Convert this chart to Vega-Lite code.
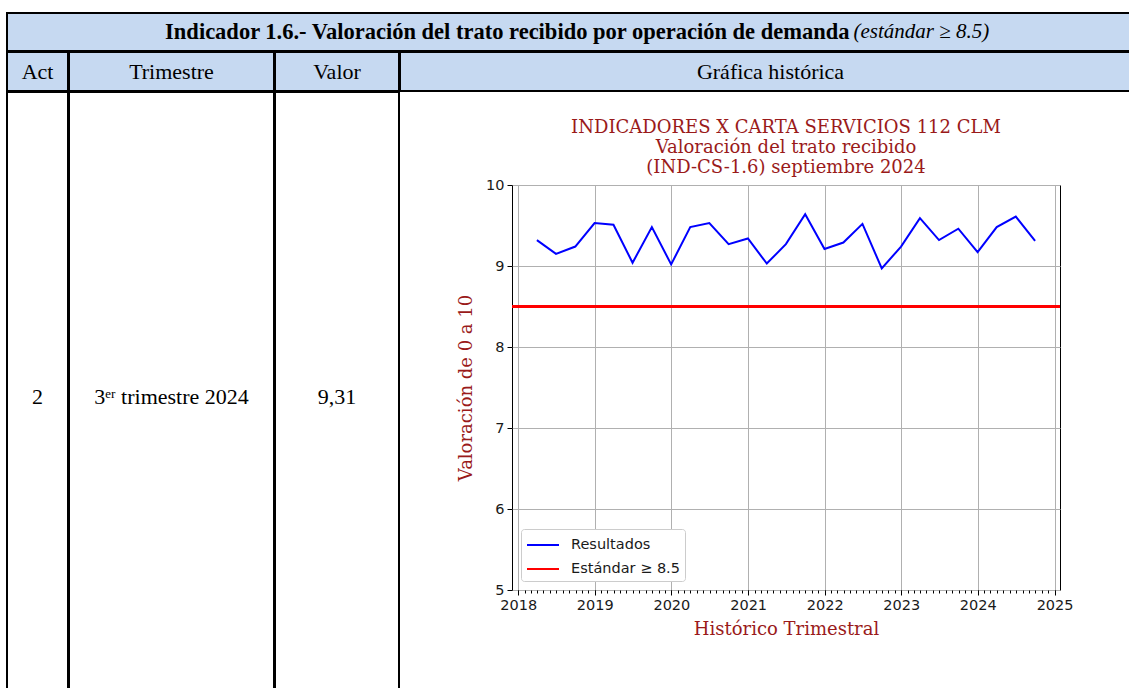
{
  "$schema": "https://vega.github.io/schema/vega-lite/v6.json",
  "background": "white",
  "padding": {"left": 6, "top": 12, "right": 0, "bottom": 0},
  "config": {"text": {"font": "Liberation Serif", "fontSize": 22, "color": "black"}},
  "spacing": -2,
  "resolve": {"scale": {"color": "independent"}, "legend": {"color": "independent"}},
  "vconcat": [
    {
      "width": 1133, "height": 38,
      "view": {"fill": "#c6d9f1", "stroke": "black", "strokeWidth": 2},
      "data": {"values": [{"a": "Indicador 1.6.- Valoración del trato recibido por operación de demanda", "b": "(estándar ≥ 8.5)"}]},
      "layer": [
        {"mark": {"type": "text", "align": "right", "dx": 276, "fontSize": 22.5, "fontWeight": "bold"}, "encoding": {"text": {"field": "a"}}},
        {"mark": {"type": "text", "align": "left", "dx": 280, "fontSize": 21, "fontStyle": "italic"}, "encoding": {"text": {"field": "b"}}}
      ]
    },
    {
      "spacing": -2,
      "hconcat": [
        {"width": 61, "height": 39, "view": {"fill": "#c6d9f1", "stroke": "black", "strokeWidth": 2}, "data": {"values": [{"t": "Act"}]}, "mark": "text", "encoding": {"text": {"field": "t"}}},
        {"width": 205, "height": 39, "view": {"fill": "#c6d9f1", "stroke": "black", "strokeWidth": 2}, "data": {"values": [{"t": "Trimestre"}]}, "mark": "text", "encoding": {"text": {"field": "t"}}},
        {"width": 124, "height": 39, "view": {"fill": "#c6d9f1", "stroke": "black", "strokeWidth": 2}, "data": {"values": [{"t": "Valor"}]}, "mark": "text", "encoding": {"text": {"field": "t"}}},
        {"width": 741, "height": 39, "view": {"fill": "#c6d9f1", "stroke": "black", "strokeWidth": 2}, "data": {"values": [{"t": "Gráfica histórica"}]}, "mark": "text", "encoding": {"text": {"field": "t"}}}
      ]
    },
    {
      "spacing": 57,
      "resolve": {"scale": {"color": "independent"}, "legend": {"color": "independent"}},
      "hconcat": [
        {
          "spacing": -2,
          "hconcat": [
            {"width": 61, "height": 610, "view": {"fill": "white", "stroke": "black", "strokeWidth": 2}, "data": {"values": [{"t": "2"}]}, "mark": "text", "encoding": {"text": {"field": "t"}}},
            {"width": 205, "height": 610, "view": {"fill": "white", "stroke": "black", "strokeWidth": 2}, "data": {"values": [{"t": "3ᵉʳ trimestre 2024"}]}, "mark": "text", "encoding": {"text": {"field": "t"}}},
            {"width": 124, "height": 610, "view": {"fill": "white", "stroke": "black", "strokeWidth": 2}, "data": {"values": [{"t": "9,31"}]}, "mark": "text", "encoding": {"text": {"field": "t"}}}
          ]
        },
        {
          "spacing": 0,
          "resolve": {"scale": {"color": "independent"}, "legend": {"color": "independent"}},
          "vconcat": [
            {"width": 1, "height": 26, "view": {"stroke": null}, "data": {"values": []}, "mark": {"type": "point", "opacity": 0}},
            {
              "width": 548, "height": 405,
              "view": {"stroke": "black", "strokeWidth": 1},
              "title": {
                "text": ["INDICADORES X CARTA SERVICIOS 112 CLM", "Valoración del trato recibido", "(IND-CS-1.6) septiembre 2024"],
                "font": "DejaVu Serif", "fontSize": 18, "fontWeight": "normal", "color": "#9a1a1a",
                "lineHeight": 20, "offset": 0, "anchor": "middle"
              },
              "data": {"values": [
                {"fecha": "2018-03-31T00:00:00", "valor": 9.32},
                {"fecha": "2018-06-30T00:00:00", "valor": 9.15},
                {"fecha": "2018-09-30T00:00:00", "valor": 9.24},
                {"fecha": "2018-12-31T00:00:00", "valor": 9.53},
                {"fecha": "2019-03-31T00:00:00", "valor": 9.51},
                {"fecha": "2019-06-30T00:00:00", "valor": 9.04},
                {"fecha": "2019-09-30T00:00:00", "valor": 9.48},
                {"fecha": "2019-12-31T00:00:00", "valor": 9.02},
                {"fecha": "2020-03-31T00:00:00", "valor": 9.48},
                {"fecha": "2020-06-30T00:00:00", "valor": 9.53},
                {"fecha": "2020-09-30T00:00:00", "valor": 9.27},
                {"fecha": "2020-12-31T00:00:00", "valor": 9.34},
                {"fecha": "2021-03-31T00:00:00", "valor": 9.03},
                {"fecha": "2021-06-30T00:00:00", "valor": 9.27},
                {"fecha": "2021-09-30T00:00:00", "valor": 9.64},
                {"fecha": "2021-12-31T00:00:00", "valor": 9.21},
                {"fecha": "2022-03-31T00:00:00", "valor": 9.29},
                {"fecha": "2022-06-30T00:00:00", "valor": 9.52},
                {"fecha": "2022-09-30T00:00:00", "valor": 8.97},
                {"fecha": "2022-12-31T00:00:00", "valor": 9.24},
                {"fecha": "2023-03-31T00:00:00", "valor": 9.59},
                {"fecha": "2023-06-30T00:00:00", "valor": 9.32},
                {"fecha": "2023-09-30T00:00:00", "valor": 9.46},
                {"fecha": "2023-12-31T00:00:00", "valor": 9.17},
                {"fecha": "2024-03-31T00:00:00", "valor": 9.48},
                {"fecha": "2024-06-30T00:00:00", "valor": 9.61},
                {"fecha": "2024-09-30T00:00:00", "valor": 9.31}
              ]},
              "layer": [
                {
                  "mark": {"type": "line", "strokeWidth": 2},
                  "encoding": {
                    "x": {"field": "fecha", "type": "temporal",
                      "scale": {"domain": [{"year": 2017, "month": 12, "date": 2, "hours": 6}, {"year": 2025, "month": 1, "date": 26, "hours": 18}]},
                      "axis": {"orient": "bottom", "values": [{"year": 2018}, {"year": 2019}, {"year": 2020}, {"year": 2021}, {"year": 2022}, {"year": 2023}, {"year": 2024}, {"year": 2025}],
                        "format": "%Y", "grid": true, "gridColor": "#b0b0b0", "gridWidth": 1, "domain": false,
                        "tickSize": 5, "tickColor": "black", "labelFont": "DejaVu Sans", "labelFontSize": 14.5, "labelColor": "#1a1a1a", "labelPadding": 3,
                        "title": "Histórico Trimestral", "titleFont": "DejaVu Serif", "titleFontSize": 18, "titleFontWeight": "normal", "titleColor": "#9a1a1a", "titlePadding": 9}},
                    "y": {"field": "valor", "type": "quantitative",
                      "scale": {"domain": [5, 10], "nice": false, "zero": false},
                      "axis": {"values": [5, 6, 7, 8, 9, 10], "format": "d", "grid": true, "gridColor": "#b0b0b0", "gridWidth": 1, "domain": false,
                        "tickSize": 5, "tickColor": "black", "labelFont": "DejaVu Sans", "labelFontSize": 14.5, "labelColor": "#1a1a1a", "labelPadding": 3,
                        "title": "Valoración de 0 a 10", "titleFont": "DejaVu Serif", "titleFontSize": 18, "titleFontWeight": "normal", "titleColor": "#9a1a1a", "titlePadding": 10}},
                    "color": {"datum": "Resultados",
                      "scale": {"domain": ["Resultados", "Estándar ≥ 8.5"], "range": ["blue", "red"]},
                      "legend": {"title": null, "orient": "bottom-left", "offset": 9, "fillColor": "white", "strokeColor": "#cccccc", "cornerRadius": 3, "padding": 5,
                        "symbolType": "M-1,0H2.2", "symbolSize": 400, "symbolStrokeWidth": 2, "labelFont": "DejaVu Sans", "labelFontSize": 14.5, "labelColor": "#1a1a1a", "labelOffset": 23, "rowPadding": 6}}
                  }
                },
                {
                  "mark": {"type": "rule", "strokeWidth": 2},
                  "encoding": {"y": {"datum": 8.5}, "color": {"datum": "Estándar ≥ 8.5"}}
                },
                {
                  "mark": {"type": "line", "opacity": 0},
                  "encoding": {
                    "x": {"field": "fecha", "type": "temporal",
                      "axis": {"orient": "bottom", "tickCount": {"interval": "month", "step": 1}, "labels": false, "grid": false, "domain": false, "tickSize": 3, "tickColor": "black", "title": null}},
                    "y": {"field": "valor", "type": "quantitative"}
                  }
                }
              ],
              "resolve": {"axis": {"x": "independent"}}
            }
          ]
        }
      ]
    }
  ]
}
